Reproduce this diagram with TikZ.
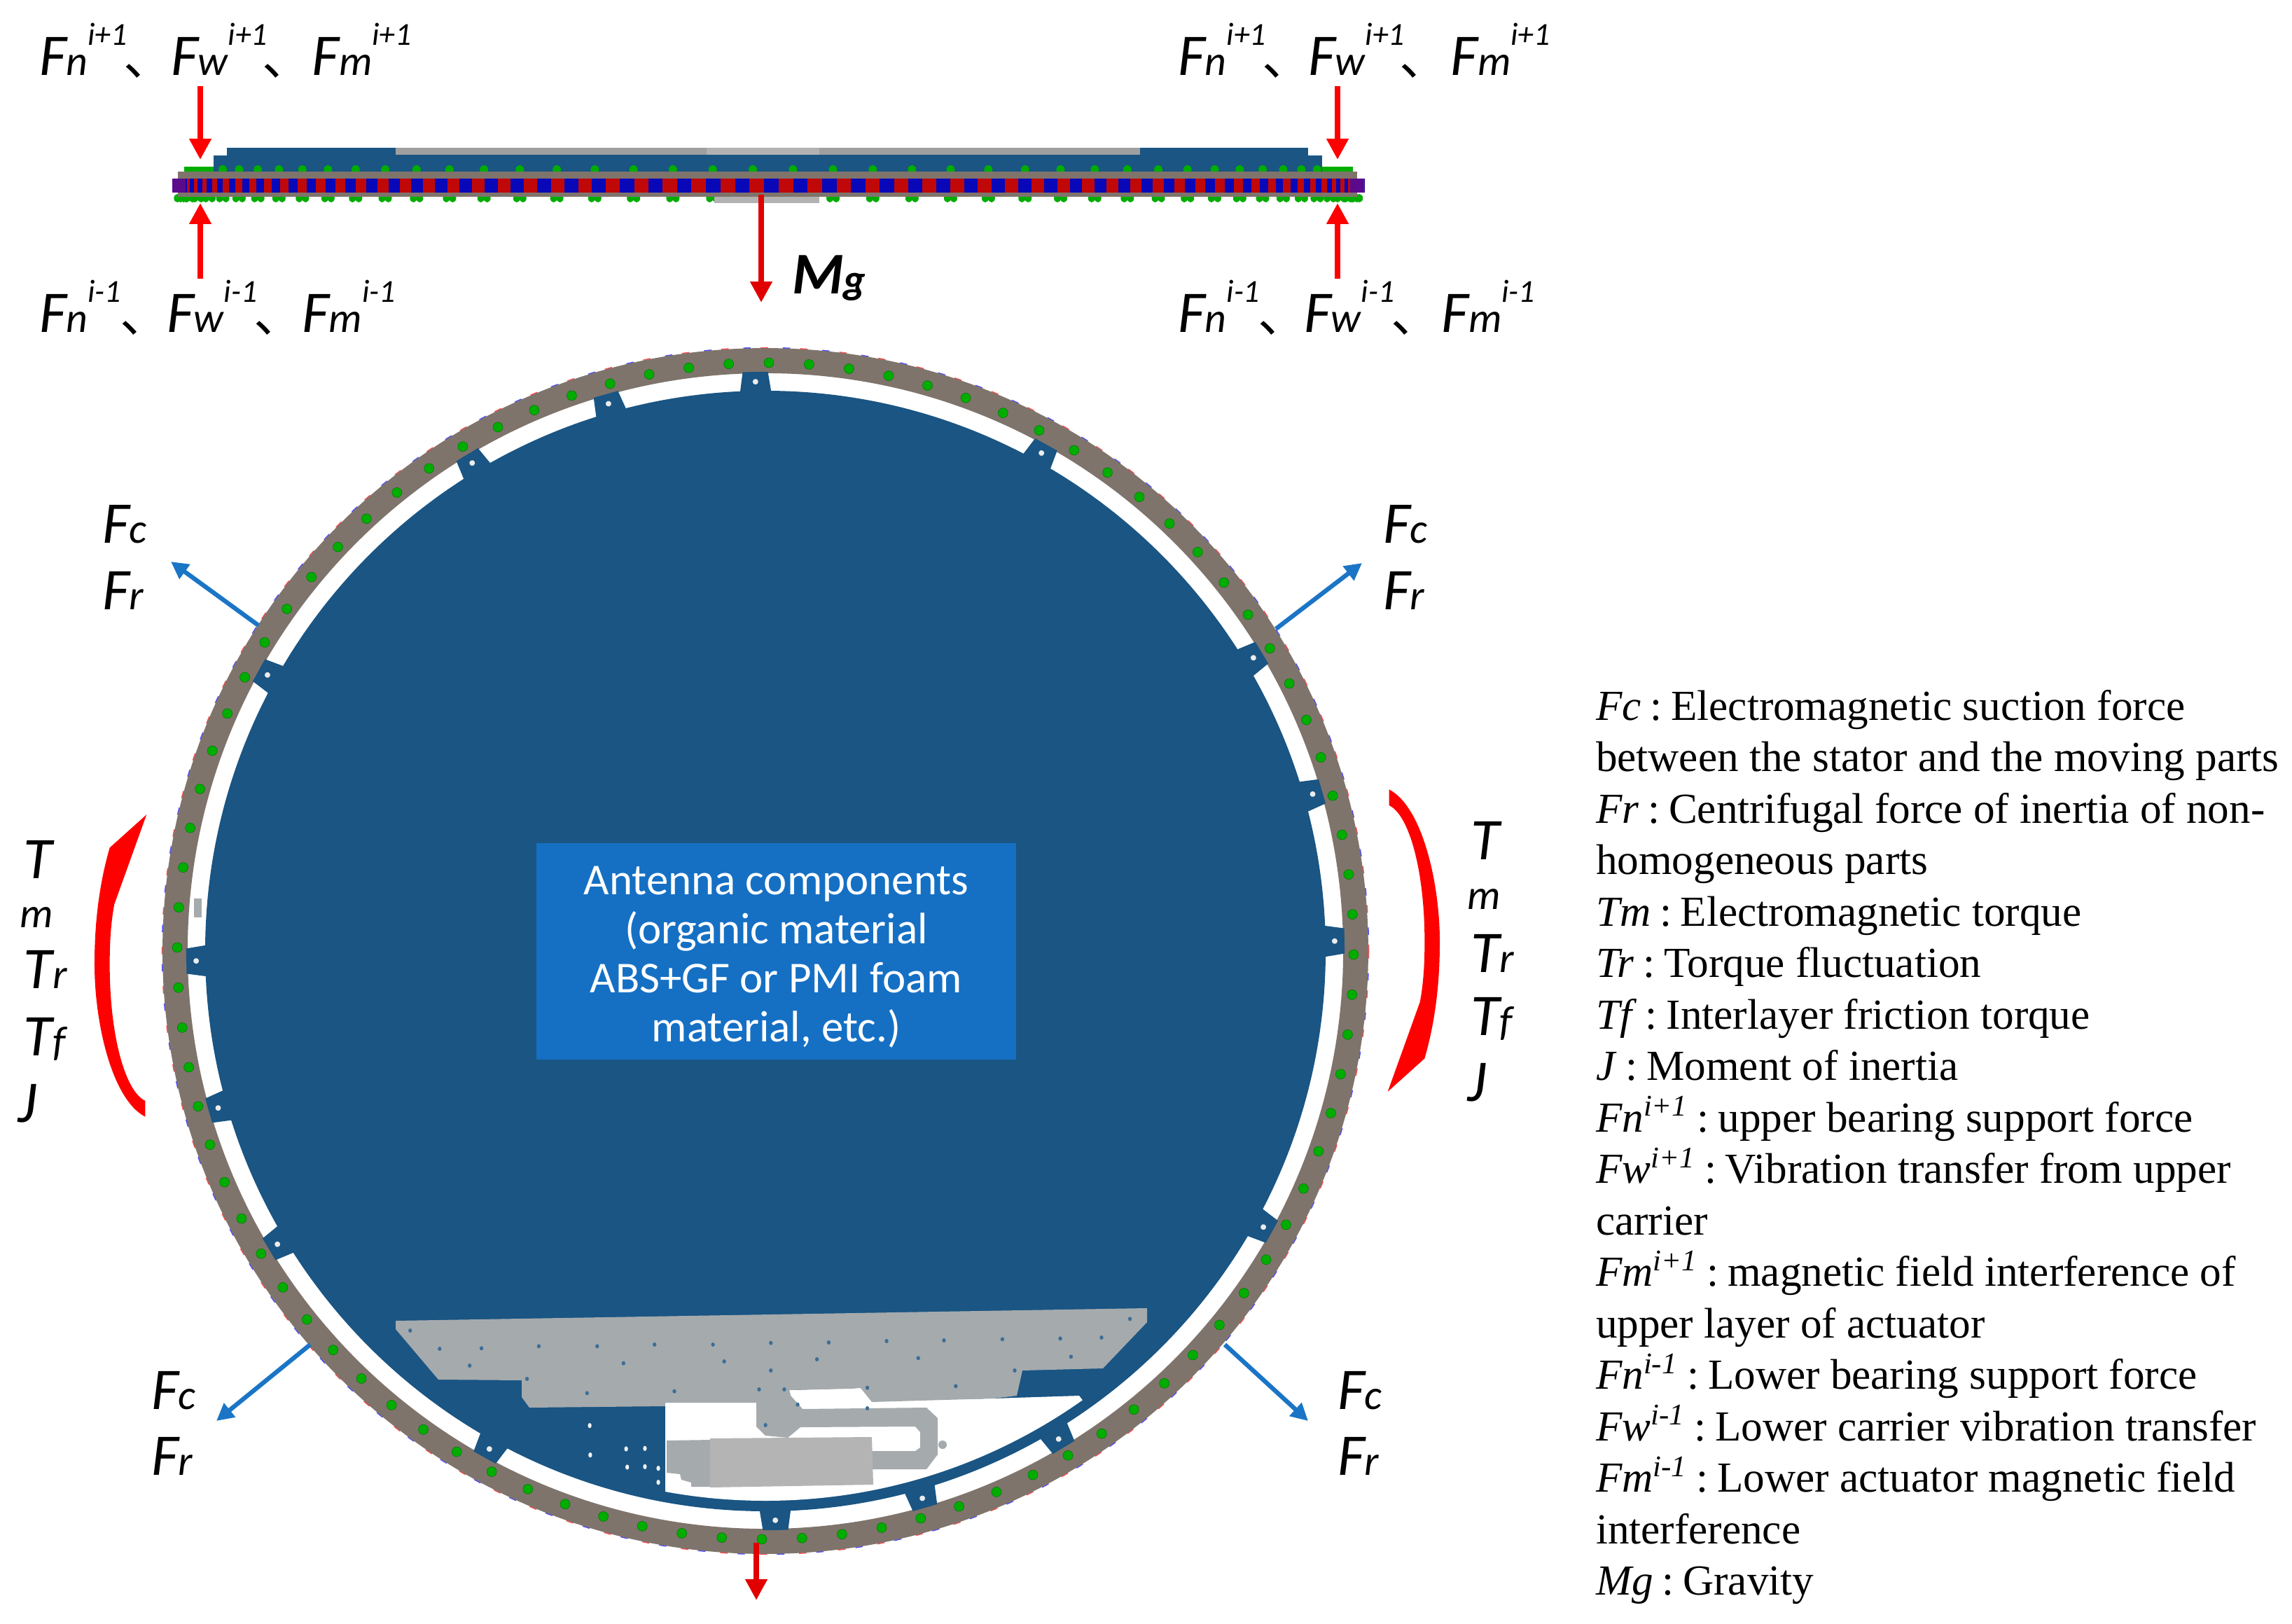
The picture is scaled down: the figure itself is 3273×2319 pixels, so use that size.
\documentclass[tikz,border=0pt]{standalone}
\usepackage{fontspec}
\usetikzlibrary{arrows.meta}
\setmainfont{Liberation Serif}
\newfontfamily\lab{Carlito}
\newfontfamily\cjk{Noto Sans CJK SC}
\definecolor{discblue}{HTML}{1A5583}
\definecolor{ringgray}{HTML}{7F746C}
\definecolor{plategray}{HTML}{A5AAAD}
\definecolor{motorgray}{HTML}{B4B4B4}
\definecolor{dotgreen}{HTML}{00AD00}
\definecolor{boxblue}{HTML}{1570C4}
\definecolor{arrowblue}{HTML}{1B75C6}
\definecolor{magred}{HTML}{C00808}
\definecolor{magblue}{HTML}{0808B8}
\definecolor{magend}{HTML}{5B0A8C}
\newcommand\bigsz{\fontsize{24}{28}\selectfont}
\newcommand\subsz{\fontsize{17}{20}\selectfont}
\newcommand\supsz{\fontsize{13}{15}\selectfont}
\newcommand\sym[2]{{\lab\itshape\bigsz #1\subsz #2}}
\newcommand\symsup[2]{{\lab\itshape\bigsz F\subsz #1\raisebox{1.5ex}{\supsz #2}}}
\newcommand\cjksep{{\cjk\fontsize{20}{24}\selectfont 、}}
\newcommand\trip[5]{\makebox[#1][l]{\rlap{\hspace*{#3}\cjksep}\symsup{n}{#5}}\makebox[#2][l]{\rlap{\hspace*{#4}\cjksep}\symsup{w}{#5}}\symsup{m}{#5}}
\newcommand\li[2]{\textit{#1}\textsuperscript{\textit{#2}}}
\newcommand\cl{\hspace{.21em}:\hspace{.21em}}
\newcommand\crescent{\fill[red] (628,180) -- (470,315) .. controls (420,480) and (405,640) .. (405,790)
     .. controls (405,1030) and (480,1340) .. (622,1410) -- (622,1345)
     .. controls (540,1310) and (470,1090) .. (470,790) .. controls (470,700) and (475,620) .. (490,545) -- cycle;}
\tikzset{
  x=0.01cm,y=-0.01cm,
  lbl/.style={anchor=base west,inner sep=0pt,outer sep=0pt},
  legend/.style={anchor=base west,inner sep=0pt,outer sep=0pt,font=\fontsize{17.4}{20}\selectfont},
  redarrow/.style={draw=red,line width=2.3pt,-{Triangle[length=8.5pt,width=8.5pt]}},
  darkarrow/.style={draw=red!88!black,line width=2.3pt,-{Triangle[length=8.5pt,width=8.5pt]}},
  bluearrow/.style={draw=arrowblue,line width=1.8pt,-{Triangle[length=7pt,width=7pt]}},
  greendot/.style={fill=dotgreen,draw=green!45!black,line width=0.15pt},
}
\begin{document}
\begin{tikzpicture}
\useasboundingbox (0,0) rectangle (3273,2319);
\fill[white] (0,0) rectangle (3273,2319);

% ---------- side view ----------
\fill[discblue] (324,211) rectangle (1868,225);
\fill[discblue] (305,222) rectangle (1888,246);
\fill[gray!75] (565,211) rectangle (1628,221);
\fill[gray!60] (1009,211) rectangle (1170,221);
\fill[dotgreen] (263,238) rectangle (305,246);
\fill[dotgreen] (1888,238) rectangle (1932,246);
\foreach \k in {-18,...,17}{
  \pgfmathsetmacro\px{1097+840*cos(91.5+\k*3.913)}
  \fill[dotgreen] (\px,242) ellipse (6 and 6);
}
\foreach \k in {-23,...,22}{
  \pgfmathsetmacro\px{1097+840*cos(91.5+\k*3.913)}
  \fill[dotgreen] (\px-4.5,283) ellipse (5 and 6);
  \fill[dotgreen] (\px+4.5,283) ellipse (5 and 6);
}
\fill[gray!60] (1020,278) rectangle (1170,290);
\fill[ringgray] (254,245) rectangle (1938,281);
\foreach \i in {0,...,128}{
  \pgfmathsetmacro\xa{1097+851*cos(180+\i*1.4)}
  \pgfmathsetmacro\xb{1097+851*cos(180+(\i+1)*1.4)}
  \ifodd\i\def\mc{magred}\else\def\mc{magblue}\fi
  \fill[\mc] (\xa,255) rectangle (\xb,275);
}
\fill[magend] (246,255) rectangle (265,275);
\fill[magend] (1928,255) rectangle (1947,275);

% ---------- plan view: ring ----------
\coordinate (C) at (1093,1358);
\draw[red!70,line width=0.7pt,dash pattern=on 3pt off 13pt] (C) circle (861);
\draw[blue!70,line width=0.7pt,dash pattern=on 3pt off 13pt,dash phase=7pt] (C) circle (861);
\draw[ringgray,line width=10.2pt] (C) circle (843);

% ---------- plan view: disc ----------
\fill[discblue] (C) circle (800);
\begin{scope}[shift={(C)}]
  \foreach \a in {1,16,31,61,91,106,121,151,181,196,211,241,271,286,301,331}{
    \begin{scope}[rotate=\a]
      \fill[discblue] (790,-25) -- (800,-22) -- (827,-18) -- (827,18) -- (800,22) -- (790,25) -- cycle;
      \fill[white!85!gray] (813,0) circle (4);
    \end{scope}
  }
\end{scope}
\begin{scope}[shift={(C)},yscale=-1]
  \foreach \k in {0,...,91}{
    \fill[greendot] ({89.66+\k*3.913}:840) circle (7);
  }
\end{scope}
\fill[plategray] (277,1283) rectangle (288,1310);

% ---------- lower components ----------
\begin{scope}
  \clip (C) circle (785);
  \fill[white] (950,2003) -- (1127,2003) -- (1127,1985) -- (1229,1982) -- (1245,2000)
     -- (1418,1997) -- (1541,1993) -- (1700,2200) -- (950,2300) -- cycle;
\end{scope}
% plate
\fill[plategray] (565,1886) -- (1638,1868) -- (1638,1888) -- (1575,1954) -- (1460,1957)
   -- (1452,1993) -- (1418,1997) -- (1245,2002) -- (1229,1982) -- (1214,1983) -- (1127,1985)
   -- (1129,1993) -- (1146,2012) -- (1080,2012) -- (1080,2003) -- (950,2003) -- (950,2008)
   -- (756,2010) -- (745,1995) -- (745,1971) -- (626,1970) -- (565,1898) -- cycle;
% arm
\fill[plategray] (1080,2000) -- (1080,2037) -- (1093,2050) -- (1125,2053) -- (1143,2038)
   -- (1307,2037) -- (1314,2045) -- (1314,2067) -- (1307,2072) -- (1240,2072) -- (1240,2098)
   -- (1323,2098) -- (1339,2077) -- (1339,2025) -- (1323,2010) -- (1146,2012) -- (1129,1993) -- (1127,1985) -- cycle;
\fill[plategray] (1346,2063) circle (6);
% motor
\fill[plategray] (952,2057) -- (1016,2056) -- (1016,2123) -- (987,2123) -- (987,2117) -- (973,2113)
   -- (971,2105) -- (952,2103) -- cycle;
\fill[motorgray] (1014,2054) -- (1245,2052) -- (1247,2120) -- (1014,2124) -- cycle;
\begin{scope}[shift={(500,1820)},xscale=0.7653,yscale=0.3333]
  \foreach \p/\q in {112/240,167/318,245/316,352/307,461/307,568/300,677/300,785/293,893/291,1001/285,1108/282,1217/277,1325/274,1402/270,1455/190,223/390,510/380,698/372,871/363,1060/358,1345/352,785/411,1240/411,330/447,442/508,605/500,763/492,810/492,965/485,1130/478,835/557,965/573,775/645}{
    \fill[discblue!85!white] (\p,\q) ellipse (3.5 and 9);
  }
  \foreach \p/\q in {447/647,448/773,515/747,550/745,517/825,550/823,575/830,575/890}{
    \fill[white!90!gray] (\p,\q) ellipse (3.5 and 11);
  }
\end{scope}

% ---------- centre box ----------
\node[fill=boxblue,minimum width=6.85cm,minimum height=3.09cm,inner sep=0pt] (box) at (1108.5,1358.5) {};
\node[inner sep=0pt,text=white,align=center,font=\lab\fontsize{17.9}{19.9}\selectfont] (boxtext) at (1108.5,1367)
  {Antenna components\\(organic material\\ABS+GF or PMI foam\\material, etc.)};

% ---------- red torque crescents ----------
\begin{scope}[shift={(0,1100)},xscale=0.3333,yscale=0.3508]
  \crescent
\end{scope}
\begin{scope}[shift={(2191,2722)},xscale=-1,yscale=-1]
  \begin{scope}[shift={(0,1100)},xscale=0.3333,yscale=0.3508]
    \crescent
  \end{scope}
\end{scope}

% ---------- arrows ----------
\coordinate (a1s) at (286,123); \coordinate (a1e) at (286,228);
\coordinate (a2s) at (286,398); \coordinate (a2e) at (286,290);
\coordinate (a3s) at (1910,123); \coordinate (a3e) at (1910,228);
\coordinate (a4s) at (1910,398); \coordinate (a4e) at (1910,290);
\coordinate (a5s) at (1087,278); \coordinate (a5e) at (1087,432);
\coordinate (a6s) at (1080,2203); \coordinate (a6e) at (1080,2285);
\draw[redarrow] (a1s) -- (a1e);
\draw[redarrow] (a2s) -- (a2e);
\draw[redarrow] (a3s) -- (a3e);
\draw[redarrow] (a4s) -- (a4e);
\draw[darkarrow] (a5s) -- (a5e);
\draw[darkarrow] (a6s) -- (a6e);
\coordinate (b1s) at (369,893); \coordinate (b1e) at (244,802);
\coordinate (b2s) at (1822,898); \coordinate (b2e) at (1945,804);
\coordinate (b3s) at (443,1920); \coordinate (b3e) at (309,2029);
\coordinate (b4s) at (1749,1920); \coordinate (b4e) at (1868,2029);
\draw[bluearrow] (b1s) -- (b1e);
\draw[bluearrow] (b2s) -- (b2e);
\draw[bluearrow] (b3s) -- (b3e);
\draw[bluearrow] (b4s) -- (b4e);

% ---------- force labels ----------
\node[lbl] (tl1) at (56,108) {\trip{1.88cm}{2.01cm}{1.20cm}{1.30cm}{i+1}};
\node[lbl] (tr1) at (1682,108) {\trip{1.86cm}{2.03cm}{1.20cm}{1.30cm}{i+1}};
\node[lbl] (bl1) at (56,475) {\trip{1.82cm}{1.93cm}{1.15cm}{1.24cm}{i-1}};
\node[lbl] (br1) at (1682,475) {\trip{1.80cm}{1.96cm}{1.14cm}{1.24cm}{i-1}};
\node[lbl] (mg) at (1131,420) {{\lab\itshape\bfseries\fontsize{24}{28}\selectfont M\subsz g}};

\node[lbl] (fc1) at (146,776) {\sym{F}{c}};
\node[lbl] (fr1) at (146,870) {\sym{F}{r}};
\node[lbl] (fc2) at (1975,776) {\sym{F}{c}};
\node[lbl] (fr2) at (1975,870) {\sym{F}{r}};
\node[lbl] (fc3) at (216,2012) {\sym{F}{c}};
\node[lbl] (fr3) at (216,2106) {\sym{F}{r}};
\node[lbl] (fc4) at (1910,2012) {\sym{F}{c}};
\node[lbl] (fr4) at (1910,2106) {\sym{F}{r}};

\node[lbl] (tl) at (34,1254) {\sym{T}{}};
\node[lbl] (ml) at (28,1324) {\sym{}{m}};
\node[lbl] (trl) at (34,1411) {\sym{T}{r}};
\node[lbl] (tfl) at (34,1507) {\sym{T}{f}};
\node[lbl] (jl) at (25,1602) {\sym{J}{}};
\node[lbl] (tr) at (2100,1227) {\sym{T}{}};
\node[lbl] (mr) at (2095,1298) {\sym{}{m}};
\node[lbl] (trr) at (2100,1388) {\sym{T}{r}};
\node[lbl] (tfr) at (2100,1478) {\sym{T}{f}};
\node[lbl] (jr) at (2095,1572) {\sym{J}{}};

% ---------- legend ----------
\node[legend] (l01) at (2279,1028) {\textit{Fc}\cl Electromagnetic suction force};
\node[legend] (l02) at (2279,1101.5) {between the stator and the moving parts};
\node[legend] (l03) at (2279,1175) {\textit{Fr}\cl Centrifugal force of inertia of non-};
\node[legend] (l04) at (2279,1248.5) {homogeneous parts};
\node[legend] (l05) at (2279,1322) {\textit{Tm}\cl Electromagnetic torque};
\node[legend] (l06) at (2279,1395.5) {\textit{Tr}\cl Torque fluctuation};
\node[legend] (l07) at (2279,1469) {\textit{Tf}\cl Interlayer friction torque};
\node[legend] (l08) at (2279,1542.5) {\textit{J}\cl Moment of inertia};
\node[legend] (l09) at (2279,1616) {\li{Fn}{i+1}\cl upper bearing support force};
\node[legend] (l10) at (2279,1689.5) {\li{Fw}{i+1}\cl Vibration transfer from upper};
\node[legend] (l11) at (2279,1763) {carrier};
\node[legend] (l12) at (2279,1836.5) {\li{Fm}{i+1}\cl magnetic field interference of};
\node[legend] (l13) at (2279,1910) {upper layer of actuator};
\node[legend] (l14) at (2279,1983.5) {\li{Fn}{i-1}\cl Lower bearing support force};
\node[legend] (l15) at (2279,2057) {\li{Fw}{i-1}\cl Lower carrier vibration transfer};
\node[legend] (l16) at (2279,2130.5) {\li{Fm}{i-1}\cl Lower actuator magnetic field};
\node[legend] (l17) at (2279,2204) {interference};
\node[legend] (l18) at (2279,2277.5) {\textit{Mg}\cl Gravity};
\end{tikzpicture}
\end{document}
